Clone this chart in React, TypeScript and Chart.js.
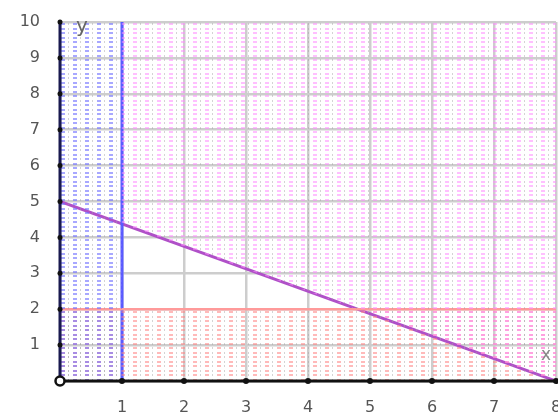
import React, { useEffect, useRef } from "react";
import { Chart, registerables } from "chart.js";

Chart.register(...registerables);

const xTicks = [0, 1, 2, 3, 4, 5, 6, 7, 8];
const yTicks = [0, 1, 2, 3, 4, 5, 6, 7, 8, 9, 10];
const constraintLine = [
  { x: 0, y: 5 },
  { x: 8, y: 0 },
];
const pinkRegionEdge = [
  { x: 1, y: 4.375 },
  { x: 8, y: 0 },
];
const blueRegionTop = [
  { x: 0, y: 10 },
  { x: 1, y: 10 },
];
const xMinLine = [
  { x: 1, y: 0 },
  { x: 1, y: 10 },
];
const yMinLine = [
  { x: 0, y: 2 },
  { x: 8, y: 2 },
];
const axisLabelX = "x";
const axisLabelY = "y";

function makePattern(color: string): CanvasPattern | string {
  const t = document.createElement("canvas");
  t.width = 12;
  t.height = 9;
  const c = t.getContext("2d");
  if (!c) return color;
  c.fillStyle = color;
  c.fillRect(1, 1, 4, 2);
  c.fillRect(1, 5, 4, 2);
  c.fillStyle = "rgba(160,160,160,0.45)";
  c.fillRect(8, 1, 1, 2);
  c.fillRect(8, 5, 1, 2);
  const p = c.createPattern(t, "repeat");
  return p || color;
}

const decorPlugin = {
  id: "decor",
  afterDatasetsDraw(chart: any) {
    const { ctx, scales } = chart;
    const xs = scales.x;
    const ys = scales.y;
    const x0 = xs.getPixelForValue(0);
    const y0 = ys.getPixelForValue(0);
    ctx.save();
    ctx.lineWidth = 3;
    ctx.strokeStyle = "#111";
    ctx.beginPath();
    ctx.moveTo(x0, y0);
    ctx.lineTo(xs.right, y0);
    ctx.stroke();
    ctx.strokeStyle = "#1a1a50";
    ctx.beginPath();
    ctx.moveTo(x0, y0);
    ctx.lineTo(x0, ys.getPixelForValue(10));
    ctx.stroke();
    ctx.fillStyle = "#111";
    xTicks.forEach((v) => {
      if (v === 0) return;
      ctx.beginPath();
      ctx.arc(xs.getPixelForValue(v), y0, 3, 0, Math.PI * 2);
      ctx.fill();
    });
    yTicks.forEach((v) => {
      if (v === 0) return;
      ctx.beginPath();
      ctx.arc(x0, ys.getPixelForValue(v), 2.5, 0, Math.PI * 2);
      ctx.fill();
    });
    ctx.beginPath();
    ctx.arc(x0, y0, 4.5, 0, Math.PI * 2);
    ctx.fillStyle = "#fff";
    ctx.fill();
    ctx.lineWidth = 2.5;
    ctx.strokeStyle = "#111";
    ctx.stroke();
    ctx.fillStyle = "#666";
    ctx.font = "20px 'DejaVu Sans', sans-serif";
    ctx.textAlign = "center";
    ctx.textBaseline = "middle";
    ctx.fillText(axisLabelY, x0 + 22, ys.getPixelForValue(10) + 5);
    ctx.fillStyle = "#888";
    ctx.font = "17px 'DejaVu Sans', sans-serif";
    ctx.fillText(axisLabelX, xs.getPixelForValue(8) - 10, ys.getPixelForValue(0.7));
    ctx.restore();
  },
};

export default function App() {
  const ref = useRef<HTMLCanvasElement | null>(null);
  useEffect(() => {
    if (!ref.current) return;
    const bluePat = makePattern("rgba(110,110,255,0.6)");
    const pinkPat = makePattern("rgba(255,140,255,0.55)");
    const redPat = makePattern("rgba(255,130,130,0.55)");
    const font = { family: "'DejaVu Sans', sans-serif", size: 16 };
    const chart = new Chart(ref.current, {
      type: "line",
      data: {
        datasets: [
          {
            data: blueRegionTop,
            fill: "origin",
            backgroundColor: bluePat as any,
            borderWidth: 0,
            pointRadius: 0,
          },
          {
            data: pinkRegionEdge,
            fill: "end",
            backgroundColor: pinkPat as any,
            borderWidth: 0,
            pointRadius: 0,
          },
          {
            data: yMinLine,
            fill: "origin",
            backgroundColor: redPat as any,
            borderColor: "#ff9a9a",
            borderWidth: 2.5,
            pointRadius: 0,
          },
          {
            data: xMinLine,
            fill: false,
            borderColor: "#5a5aff",
            borderWidth: 3,
            pointRadius: 0,
          },
          {
            data: constraintLine,
            fill: false,
            borderColor: "#b050c8",
            borderWidth: 3,
            pointRadius: 0,
          },
        ],
      },
      options: {
        responsive: false,
        animation: false,
        devicePixelRatio: 1,
        layout: { padding: { top: 22, right: 2, left: 0, bottom: 0 } },
        plugins: {
          legend: { display: false },
          tooltip: { enabled: false },
        },
        scales: {
          x: {
            type: "linear",
            min: 0,
            max: 8,
            afterFit: (s: any) => {
              s.height = 34;
              s.paddingLeft = 0;
              s.paddingRight = 0;
            },
            afterBuildTicks: (s: any) => {
              s.ticks = xTicks.map((v) => ({ value: v }));
            },
            ticks: {
              stepSize: 1,
              padding: 17,
              color: "#555",
              font,
              maxRotation: 0,
              autoSkip: false,
              callback: (v: any) => (v === 0 ? "" : String(v)),
            },
            grid: { color: "#cdcdcd", lineWidth: 2.5, drawTicks: false },
            border: { display: false },
          },
          y: {
            type: "linear",
            min: 0,
            max: 10,
            afterFit: (s: any) => {
              s.width = 60;
              s.paddingTop = 0;
              s.paddingBottom = 0;
            },
            afterBuildTicks: (s: any) => {
              s.ticks = yTicks.map((v) => ({ value: v }));
            },
            ticks: {
              stepSize: 1,
              padding: 20,
              color: "#555",
              font,
              autoSkip: false,
              callback: (v: any) => (v === 0 ? "" : String(v)),
            },
            grid: { color: "#cdcdcd", lineWidth: 2.5, drawTicks: false },
            border: { display: false },
          },
        },
      },
      plugins: [decorPlugin],
    });
    return () => chart.destroy();
  }, []);
  return (
    <div style={{ position: "absolute", left: 0, top: 0, width: 558, height: 415, background: "#fff" }}>
      <canvas ref={ref} width={558} height={415} style={{ display: "block" }} />
    </div>
  );
}
